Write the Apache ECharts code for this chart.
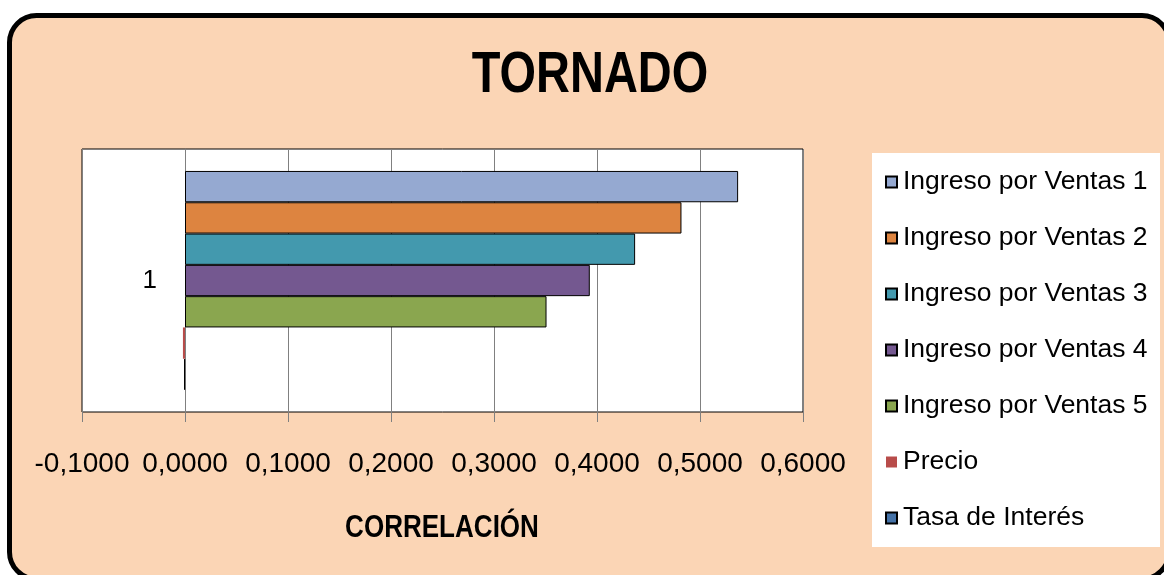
<!DOCTYPE html>
<html>
<head>
<meta charset="utf-8">
<script src="https://cdn.jsdelivr.net/npm/echarts@6/dist/echarts.min.js"></script>
<style>
  html, body { margin: 0; padding: 0; background: #ffffff; }
  #chart { width: 1164px; height: 575px; }
</style>
</head>
<body>
<div id="chart"></div>
<script>
// Sensitivity (tornado) data: correlation of each input with the output
const categories = ['1'];
const seriesNames = [
  'Ingreso por Ventas 1',
  'Ingreso por Ventas 2',
  'Ingreso por Ventas 3',
  'Ingreso por Ventas 4',
  'Ingreso por Ventas 5',
  'Precio',
  'Tasa de Interés'
];
const correlations = [0.537, 0.482, 0.437, 0.393, 0.351, -0.002, -0.0008];
const seriesColors = ['#95A9D1', '#DD8440', '#4399AE', '#745890', '#8AA64F', '#B84C4A', '#4572A7'];
const xTicks = [-0.1, 0, 0.1, 0.2, 0.3, 0.4, 0.5, 0.6];

const FONT = "'Liberation Sans', Arial, sans-serif";

function fmtTick(v) {
  if (Math.abs(v) < 1e-9) v = 0;
  return v.toFixed(4).replace('.', ',');
}

const series = seriesNames.map((name, i) => ({
  name: name,
  type: 'bar',
  data: [correlations[i]],
  barGap: '0%',
  barCategoryGap: '16.7%',
  itemStyle: {
    color: seriesColors[i],
    borderColor: '#000000',
    borderWidth: name === 'Precio' ? 0 : 1
  }
}));

const chart = echarts.init(document.getElementById('chart'), null, { renderer: 'canvas' });
chart.setOption({
  animation: false,
  backgroundColor: '#ffffff',
  graphic: [
    {
      // rounded chart-area frame
      type: 'rect',
      z: -10,
      shape: { x: 9.5, y: 15.5, width: 1159.5, height: 563.5, r: 27 },
      style: { fill: '#FBD5B5', stroke: '#000000', lineWidth: 5 }
    },
    {
      // legend panel
      type: 'rect',
      z: -5,
      shape: { x: 872, y: 153, width: 288, height: 394 },
      style: { fill: '#ffffff' }
    },
    {
      type: 'text',
      x: 590,
      y: 76,
      scaleX: 0.81,
      style: {
        text: 'TORNADO',
        font: "bold 58px " + FONT,
        fill: '#000000',
        textAlign: 'center',
        textVerticalAlign: 'middle'
      }
    },
    {
      type: 'text',
      x: 442,
      y: 528,
      scaleX: 0.84,
      style: {
        text: 'CORRELACIÓN',
        font: "bold 31px " + FONT,
        fill: '#000000',
        textAlign: 'center',
        textVerticalAlign: 'middle'
      }
    }
  ],
  legend: {
    orient: 'vertical',
    left: 885,
    top: 166,
    padding: 0,
    itemWidth: 11,
    itemHeight: 11,
    itemGap: 24,
    icon: 'rect',
    textStyle: {
      fontFamily: FONT,
      fontSize: 26.5,
      lineHeight: 32,
      color: '#000000',
      padding: [0, 0, 0, 1]
    },
    data: seriesNames
  },
  grid: {
    left: 82,
    top: 149,
    width: 721,
    height: 263,
    show: true,
    backgroundColor: '#ffffff',
    borderColor: '#000000',
    borderWidth: 1
  },
  xAxis: {
    type: 'value',
    min: xTicks[0],
    max: xTicks[xTicks.length - 1],
    interval: 0.1,
    axisLine: { lineStyle: { color: '#808080', width: 1 } },
    axisTick: { show: true, length: 10, lineStyle: { color: '#808080' } },
    splitLine: { show: true, lineStyle: { color: '#808080', width: 1 } },
    axisLabel: {
      formatter: fmtTick,
      fontFamily: FONT,
      fontSize: 28,
      color: '#000000',
      margin: 38,
      interval: 0,
      showMinLabel: true,
      showMaxLabel: true,
      hideOverlap: false
    }
  },
  yAxis: {
    type: 'category',
    inverse: true,
    data: categories,
    axisLine: { onZero: true, lineStyle: { color: '#808080' } },
    axisTick: { show: false },
    axisLabel: {
      fontFamily: FONT,
      fontSize: 26,
      color: '#000000',
      margin: -75
    }
  },
  series: series
});
</script>
</body>
</html>
